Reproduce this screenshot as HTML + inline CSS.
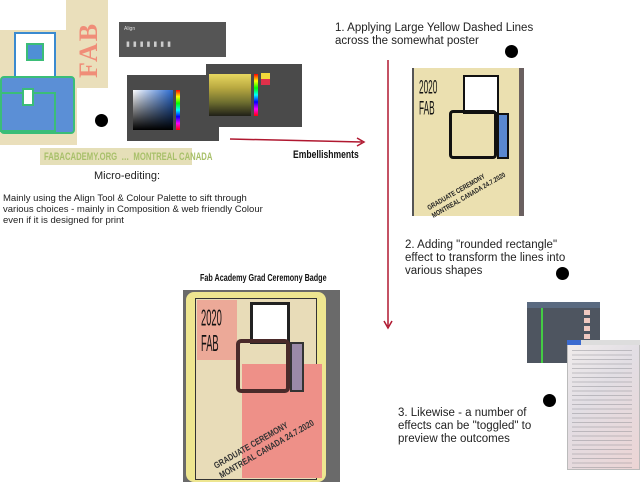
<!DOCTYPE html>
<html><head><style>
body{margin:0;width:640px;height:482px;background:#fff;position:relative;overflow:hidden;font-family:"Liberation Sans",sans-serif;}
.a{position:absolute;white-space:nowrap}
.t{font-size:11px;color:#222;line-height:12px}
.dot{position:absolute;width:13px;height:13px;border-radius:50%;background:#000}
.n{transform-origin:0 0}
</style></head><body>
<!-- left FAB graphic -->
<div class="a" style="left:66px;top:0;width:42px;height:88px;background:#eadfbb"></div>
<div class="a" style="left:74px;top:78px;font:bold 26px 'Liberation Serif',serif;color:#f08d78;transform:rotate(-90deg);transform-origin:0 0;letter-spacing:2px">FAB</div>
<div class="a" style="left:0;top:30px;width:77px;height:115px;background:#eadfbb"></div>
<div class="a" style="left:14px;top:32px;width:38px;height:45px;background:#fff;border:2px solid #3a8ad0"></div>
<div class="a" style="left:26px;top:43px;width:14px;height:14px;background:#4f8fd6;border:2px solid #3bbd78"></div>
<div class="a" style="left:0;top:76px;width:75px;height:58px;background:#5b8fd6;border:2px solid #3bbd78;border-radius:4px;box-sizing:border-box"></div>
<div class="a" style="left:0;top:92px;width:56px;height:40px;border:2px solid #3bbd78;box-sizing:border-box"></div>
<div class="a" style="left:22px;top:88px;width:8px;height:14px;background:#fff;border:2px solid #3bbd78"></div>
<div class="a" style="left:40px;top:148px;width:152px;height:17px;background:#e5dfb8"></div>
<div class="a n" style="left:44px;top:151px;font:bold 11px 'Liberation Sans',sans-serif;color:#a8c06a;transform:scaleX(0.7)">FABACADEMY.ORG &nbsp;… &nbsp;MONTREAL CANADA</div>
<!-- align panel -->
<div class="a" style="left:119px;top:22px;width:107px;height:35px;background:#555"></div>
<div class="a" style="left:124px;top:26px;font-size:5px;color:#ddd">Align</div>
<div class="a" style="left:126px;top:40px;font-size:7px;color:#ccc;letter-spacing:3px">▮▮▮▮▮▮▮</div>
<!-- color pickers -->
<div class="a" style="left:127px;top:75px;width:92px;height:66px;background:#4a4a4a"></div>
<div class="a" style="left:133px;top:90px;width:40px;height:40px;background:linear-gradient(to bottom,transparent,#000),linear-gradient(to right,#fff,#2a6ad0)"></div>
<div class="a" style="left:176px;top:90px;width:4px;height:40px;background:linear-gradient(#f00,#ff0,#0f0,#0ff,#00f,#f0f,#f00)"></div>
<div class="a" style="left:206px;top:64px;width:96px;height:63px;background:#4a4a4a"></div>
<div class="a" style="left:209px;top:74px;width:42px;height:42px;background:linear-gradient(#e8d860,#b8a840,#707030,#202018)"></div>
<div class="a" style="left:254px;top:74px;width:4px;height:42px;background:linear-gradient(#f00,#ff0,#0f0,#0ff,#00f,#f0f,#f00)"></div>
<div class="a" style="left:261px;top:73px;width:9px;height:12px;background:linear-gradient(#f3d83a 50%,#e0304a 50%)"></div>
<div class="dot" style="left:95px;top:114px"></div>
<div class="a t" style="left:0;top:170px;width:254px;text-align:center">Micro-editing:</div>
<div class="a t" style="left:3px;top:193px;font-size:9.5px;line-height:11px">Mainly using the Align Tool &amp; Colour Palette to sift through<br>various choices - mainly in Composition &amp; web friendly Colour<br>even if it is designed for print</div>
<!-- lines -->
<svg class="a" style="left:0;top:0" width="640" height="482">
<line x1="230" y1="139" x2="362" y2="142" stroke="#b01830" stroke-width="1.5"/>
<path d="M357,138 L364,142 L357,146" fill="none" stroke="#b01830" stroke-width="1.5"/>
<line x1="388" y1="60" x2="388" y2="326" stroke="#b01830" stroke-width="1.5"/>
<path d="M384,321 L388,328 L392,321" fill="none" stroke="#b01830" stroke-width="1.5"/>
</svg>
<div class="a n" style="left:293px;top:149px;font:bold 11px 'Liberation Sans',sans-serif;color:#111;transform:scaleX(0.78)">Embellishments</div>
<div class="a t" style="left:335px;top:22px;font-size:11.5px;line-height:13px">1. Applying Large Yellow Dashed Lines<br>across the somewhat poster</div>
<div class="dot" style="left:505px;top:45px"></div>
<!-- poster 1 -->
<div class="a" style="left:412px;top:68px;width:112px;height:148px;background:#ebe0b0;border-left:2px solid #555;border-right:5px solid #6a6060;box-sizing:border-box"></div>
<div class="a n" style="left:419px;top:78px;font:15px 'Liberation Sans',sans-serif;color:#111;line-height:16px;transform:scaleX(0.55) scaleY(1.3)">2020<br>FAB</div>
<div class="a" style="left:463px;top:75px;width:32px;height:35px;background:#fff;border:2px solid #111"></div>
<div class="a" style="left:449px;top:110px;width:48px;height:49px;border:3px solid #111;border-radius:4px;box-sizing:border-box"></div>
<div class="a" style="left:497px;top:113px;width:12px;height:46px;background:#5a88d0;border:2px solid #111;box-sizing:border-box"></div>
<div class="a" style="left:426px;top:205px;font:bold 7px 'Liberation Sans',sans-serif;color:#222;transform:rotate(-30deg) scaleX(0.8);transform-origin:0 0;line-height:9px">GRADUATE CEREMONY<br>MONTREAL CANADA 24.7.2020</div>
<div class="a t" style="left:405px;top:239px;font-size:11.5px;line-height:13px">2. Adding "rounded rectangle"<br>effect to transform the lines into<br>various shapes</div>
<div class="dot" style="left:556px;top:267px"></div>
<!-- badge -->
<div class="a n" style="left:200px;top:273px;font:bold 10px 'Liberation Sans',sans-serif;color:#111;transform:scaleX(0.72)">Fab Academy Grad Ceremony Badge</div>
<div class="a" style="left:183px;top:290px;width:157px;height:192px;background:#6a6a6a"></div>
<div class="a" style="left:186px;top:292px;width:140px;height:190px;background:#eee690;border-radius:8px"></div>
<div class="a" style="left:195px;top:298px;width:120px;height:180px;background:#e8dcb8;border:1px solid #333"></div>
<div class="a" style="left:197px;top:300px;width:40px;height:60px;background:#ec9c90;opacity:.8"></div>
<div class="a" style="left:242px;top:364px;width:80px;height:114px;background:#ee9088"></div>
<div class="a n" style="left:201px;top:305px;font:17px 'Liberation Sans',sans-serif;color:#111;line-height:19px;transform:scaleX(0.55) scaleY(1.35)">2020<br>FAB</div>
<div class="a" style="left:250px;top:302px;width:34px;height:36px;background:#fff;border:3px solid #222"></div>
<div class="a" style="left:236px;top:339px;width:54px;height:54px;border:4px solid #4a2a2a;border-radius:5px;box-sizing:border-box"></div>
<div class="a" style="left:290px;top:342px;width:14px;height:50px;background:#9a8aa8;border:2px solid #333;box-sizing:border-box"></div>
<div class="a" style="left:212px;top:462px;font:bold 9px 'Liberation Sans',sans-serif;color:#333;transform:rotate(-30deg) scaleX(0.8);transform-origin:0 0;line-height:11px">GRADUATE CEREMONY<br>MONTREAL CANADA 24.7.2020</div>
<!-- layers panel & menu -->
<div class="a" style="left:527px;top:302px;width:73px;height:61px;background:#4e5560"></div>
<div class="a" style="left:527px;top:302px;width:73px;height:6px;background:#5a6a80"></div>
<div class="a" style="left:541px;top:308px;width:2px;height:55px;background:#4c4"></div>
<div class="a" style="left:584px;top:310px;width:6px;height:40px;background:repeating-linear-gradient(#f0c8c0 0 5px,#4e5560 5px 8px)"></div>
<div class="a" style="left:567px;top:340px;width:73px;height:130px;background:linear-gradient(135deg,#f0ecec,#e2dee4 40%,#ecd4d4);border:1px solid #bbb;box-sizing:border-box"></div>
<div class="a" style="left:567px;top:340px;width:73px;height:5px;background:#ddd"></div>
<div class="a" style="left:567px;top:340px;width:14px;height:5px;background:#3a6ad0"></div>
<div class="a" style="left:572px;top:348px;width:60px;height:120px;background:repeating-linear-gradient(transparent 0 2px,#8a8a90 2px 3px,transparent 3px 4.5px);opacity:.45"></div>
<div class="dot" style="left:543px;top:394px"></div>
<div class="a t" style="left:398px;top:407px;font-size:11.5px;line-height:13px">3. Likewise - a number of<br>effects can be "toggled" to<br>preview the outcomes</div>
</body></html>
